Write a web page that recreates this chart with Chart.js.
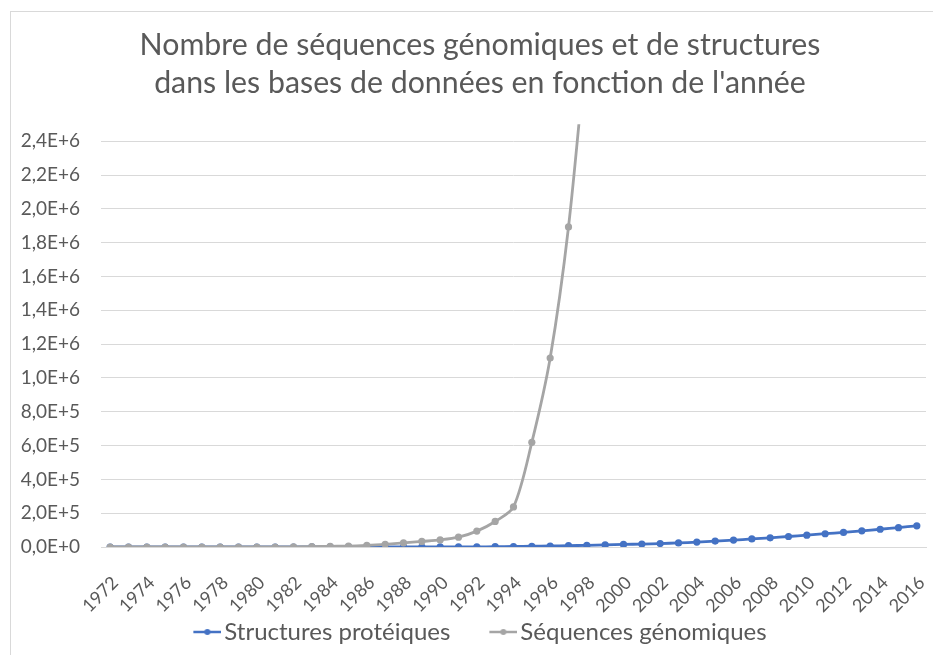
<!DOCTYPE html>
<html lang="fr">
<head>
  <meta charset="UTF-8">
  <title>Séquences génomiques et structures</title>
  <script src="https://cdn.jsdelivr.net/npm/chart.js"></script>
  <style>
    html, body {
      margin: 0;
      padding: 0;
      background: #fff;
      overflow: hidden;
    }

    .frame {
      position: absolute;
      left: 10px;
      top: 11px;
      width: 960px;
      height: 700px;
      border: 1px solid #d9d9d9;
    }

    .chart-container {
      position: absolute;
      left: 0;
      top: 0;
    }
  </style>
</head>
<body>
<div class="frame"></div>
<div class="chart-container">
  <canvas id="lineChart" width="980" height="655"></canvas>
</div>
<script>
  // années (axe des x)
  const years = [
    '1972', '1973', '1974', '1975', '1976', '1977', '1978', '1979', '1980', '1981',
    '1982', '1983', '1984', '1985', '1986', '1987', '1988', '1989', '1990', '1991',
    '1992', '1993', '1994', '1995', '1996', '1997', '1998', '1999', '2000', '2001',
    '2002', '2003', '2004', '2005', '2006', '2007', '2008', '2009', '2010', '2011',
    '2012', '2013', '2014', '2015', '2016'
  ];

  // Structures protéiques
  const structures = [
    7, 9, 12, 13, 13, 23, 36, 46, 69, 100,
    137, 165, 174, 196, 213, 242, 265, 362, 507, 699,
    1006, 1700, 3000, 4300, 5800, 7800, 10000, 12500, 15000, 17500,
    20500, 24000, 29000, 35000, 41000, 47500, 54500, 62000, 70000, 78500,
    86500, 95500, 105000, 114500, 125500
  ];

  // Séquences génomiques (la courbe sort du graphique après 1997)
  const sequences = [
    0, 0, 0, 0, 0, 0, 0, 0, 0, 0,
    600, 2400, 4200, 5700, 10000, 16000, 24000, 33000, 42000, 58000,
    94000, 151000, 237000, 619000, 1118000, 1893000, 3000000
  ];

  // graduations de l'axe des y
  const yTicks = [0, 2e5, 4e5, 6e5, 8e5, 1e6, 1.2e6, 1.4e6, 1.6e6, 1.8e6, 2e6, 2.2e6, 2.4e6];

  const textColor = '#595959';
  const blue = '#4472C4';
  const gray = '#A5A5A5';

  // icône de légende : trait + point, calé à droite d'un canvas transparent
  function legendIcon(color) {
    const c = document.createElement('canvas');
    c.width = 69;
    c.height = 10;
    const g = c.getContext('2d');
    g.strokeStyle = color;
    g.lineWidth = 2.5;
    g.beginPath();
    g.moveTo(41, 5);
    g.lineTo(69, 5);
    g.stroke();
    g.fillStyle = color;
    g.beginPath();
    g.arc(55, 5, 3, 0, 2 * Math.PI);
    g.fill();
    return c;
  }

  function sci(v) {
    return v.toExponential(1).replace('.', ',').replace('e', 'E');
  }

  // décale la légende pour la centrer comme le titre
  const legendShift = {
    id: 'legendShift',
    afterLayout(chart) {
      chart.legend.left -= 16;
      chart.legend.right -= 16;
    }
  };

  const ctx = document.getElementById('lineChart').getContext('2d');
  new Chart(ctx, {
    type: 'line',
    data: {
      labels: years,
      datasets: [{
        label: 'Structures protéiques',
        data: structures,
        borderColor: blue,
        backgroundColor: blue,
        borderWidth: 2.8,
        pointRadius: 3.6,
        pointBorderWidth: 0,
        tension: 0.3,
        order: 1
      }, {
        label: 'Séquences génomiques',
        data: sequences,
        borderColor: gray,
        backgroundColor: gray,
        borderWidth: 2.8,
        pointRadius: 3.6,
        pointBorderWidth: 0,
        tension: 0.3,
        order: 0
      }]
    },
    plugins: [legendShift],
    options: {
      responsive: false,
      animation: false,
      layout: {
        padding: { left: 11, right: 31, top: 12, bottom: 1 }
      },
      plugins: {
        title: {
          display: true,
          text: ['Nombre de séquences génomiques et de structures',
                 'dans les bases de données en fonction de l\'année'],
          color: textColor,
          font: { family: 'Lato', size: 30.3, weight: 'normal', lineHeight: 1.26 },
          padding: { top: 14, bottom: 22 }
        },
        legend: {
          position: 'bottom',
          labels: {
            color: textColor,
            font: { family: 'Lato', size: 24 },
            usePointStyle: true,
            pointStyleWidth: 51,
            padding: 7,
            sort: (a, b) => a.datasetIndex - b.datasetIndex,
            generateLabels: chart => {
              const items = Chart.defaults.plugins.legend.labels.generateLabels(chart);
              items.forEach(it => {
                it.pointStyle = legendIcon(it.datasetIndex === 0 ? blue : gray);
              });
              return items;
            }
          }
        },
        tooltip: { enabled: false }
      },
      scales: {
        x: {
          offset: true,
          grid: { display: false, drawTicks: false },
          border: { color: '#d9d9d9' },
          ticks: {
            autoSkip: false,
            maxRotation: 45,
            minRotation: 45,
            padding: 25,
            labelOffset: 5,
            color: textColor,
            font: { family: 'Lato', size: 18 },
            callback: (value, index) => (index % 2 === 0 ? years[index] : '')
          },
          afterFit: scale => { scale.height = 66; }
        },
        y: {
          min: 0,
          max: 2.5e6,
          border: { display: false },
          grid: { color: '#d9d9d9', drawTicks: false },
          afterBuildTicks: scale => {
            scale.ticks = yTicks.map(v => ({ value: v }));
          },
          ticks: {
            padding: 21,
            color: textColor,
            font: { family: 'Lato', size: 19 },
            callback: v => sci(v)
          },
          afterFit: scale => { scale.width = 90; }
        },
        // axe vide à droite : réserve la marge droite de la zone de tracé
        yRight: {
          position: 'right',
          grid: { display: false },
          border: { display: false },
          ticks: { display: false },
          afterFit: scale => { scale.width = 23; }
        }
      }
    }
  });
</script>
</body>
</html>
